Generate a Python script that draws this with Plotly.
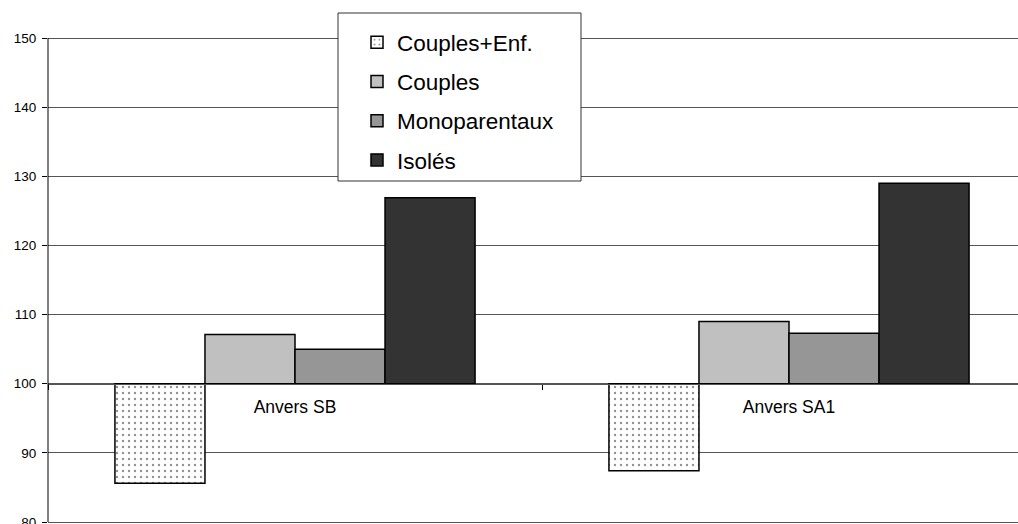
import plotly.graph_objects as go

categories = ["Anvers SB", "Anvers SA1"]
series_names = ["Couples+Enf.", "Couples", "Monoparentaux", "Isolés"]
couples_enf = [85.6, 87.4]
couples = [107.1, 109.0]
monoparentaux = [105.0, 107.3]
isoles = [126.9, 129.0]

base_value = 100
values = [couples_enf, couples, monoparentaux, isoles]
fills = ["white", "#c0c0c0", "#969696", "#333333"]

W, H = 1018, 524
# plot area in pixels (left, right, top, bottom) for the 80..150 range
pl, pr, pt, pb = 48, 1018, 38, 522
plot_w = pr - pl
y_lo, y_hi = 80, 150
# plotly drops grid lines sitting on the very edge, so pad a few pixels
pad_px = 2
unit = (y_hi - y_lo) / (pb - pt)


def px_x(x):
    return x / W


def px_y(y):
    return (H - y) / H


fig = go.Figure()

for i, (name, vals) in enumerate(zip(series_names, values)):
    marker = dict(color=fills[i], line=dict(color="black", width=1.5))
    if i == 0:
        marker["pattern"] = dict(shape=".", fgcolor="#222222", bgcolor="white",
                                 size=6, solidity=0.12)
    fig.add_trace(go.Bar(
        x=categories,
        y=[v - base_value for v in vals],
        base=base_value,
        name=name,
        marker=marker,
        legendgroup=f"g{i}",
    ))

# category width in the original is ~494px, so the right part is cut off
cat_px = 494
x_hi = -0.5 + plot_w / cat_px

fig.update_layout(
    width=W, height=H,
    margin=dict(l=0, r=0, t=0, b=0, autoexpand=False),
    barmode="group",
    bargap=0.271,
    bargroupgap=0,
    plot_bgcolor="white",
    paper_bgcolor="white",
    font=dict(family="Liberation Sans, Arial, sans-serif", color="black"),
    showlegend=True,
    legend=dict(
        x=px_x(357), xanchor="left",
        y=px_y(21), yanchor="top",
        bgcolor="rgba(0,0,0,0)",
        borderwidth=0,
        font=dict(size=22.5),
        tracegroupgap=7,
        traceorder="grouped",
    ),
    xaxis=dict(
        type="category",
        domain=[px_x(pl), px_x(pr)],
        range=[-0.5, x_hi],
        anchor="free",
        position=px_y(pb) + (px_y(pt) - px_y(pb)) * (base_value - y_lo) / (y_hi - y_lo),
        showline=True, linecolor="#555555", linewidth=1,
        showgrid=False,
        ticks="outside", tickson="boundaries", ticklen=5, tickcolor="black",
        ticklabelstandoff=7,
        tickfont=dict(size=17.5),
        automargin=False,
    ),
    yaxis=dict(
        domain=[px_y(pb + pad_px), px_y(pt - pad_px)],
        range=[y_lo - pad_px * unit, y_hi + pad_px * unit],
        tick0=80,
        dtick=10,
        showline=False,
        showgrid=True, gridcolor="#555555", gridwidth=1,
        zeroline=False,
        ticks="outside", ticklen=5, tickcolor="black",
        ticklabelstandoff=3,
        ticklabeloverflow="allow",
        tickfont=dict(size=13.5),
        automargin=False,
    ),
)

# value axis line, only between 80 and 150
fig.add_shape(
    type="line", xref="paper", yref="paper",
    x0=px_x(pl), x1=px_x(pl), y0=px_y(pb), y1=px_y(pt),
    line=dict(color="black", width=1), layer="above",
)

# legend frame
fig.add_shape(
    type="rect", xref="paper", yref="paper",
    x0=px_x(338), x1=px_x(581),
    y0=px_y(181), y1=px_y(13),
    fillcolor="white", line=dict(color="#333333", width=1), layer="above",
)

# drop the browser's default page margin so the figure sits at (0, 0)
fig.write_html("out.html",
               config={"displayModeBar": False},
               post_script="document.body.style.margin='0';")
